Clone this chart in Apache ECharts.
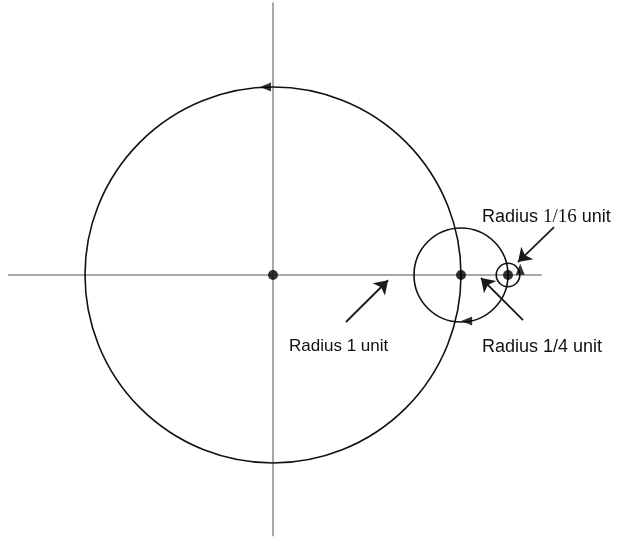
<!DOCTYPE html>
<html>
<head>
<meta charset="utf-8">
<script src="https://cdn.jsdelivr.net/npm/echarts@6/dist/echarts.min.js"></script>
<style>html,body{margin:0;padding:0;background:#fff}#c{width:637px;height:540px}</style>
</head>
<body>
<div id="c"></div>
<script>
// circles: [centerX, centerY, radius] in units
const circles = [[0, 0, 1], [1, 0, 0.25], [1.25, 0, 0.0625]];
// centre dots
const dots = [[0, 0], [1, 0], [1.25, 0]];
// reference axes (end points)
const hAxisLine = [[-1.41, 0], [1.43, 0]];
const vAxisLine = [[0, 1.45], [0, -1.39]];
// direction arrowheads on circles: [x, y, rotation deg]
const dirArrows = [[-0.04, 1.0, 90], [1.03, -0.245, 90], [1.315, 0.03, 0]];
// label pointer arrows: [from, to]
const pointers = [
  [[0.388, -0.25], [0.612, -0.028]],
  [[1.33, -0.24], [1.106, -0.016]],
  [[1.495, 0.255], [1.303, 0.069]]
];
const S = 188;
const chart = echarts.init(document.getElementById('c'));
chart.setOption({
  animation: false,
  backgroundColor: '#fff',
  grid: {left: 273 - 1.4 * S, top: 275 - 1.4 * S, width: 3.3 * S, height: 2.8 * S, show: false},
  xAxis: {type: 'value', min: -1.4, max: 1.9, show: false},
  yAxis: {type: 'value', min: -1.4, max: 1.4, show: false},
  series: [
    {type: 'line', data: hAxisLine, clip: false, symbol: 'none', lineStyle: {color: '#a8a8a8', width: 2}, z: 1},
    {type: 'line', data: vAxisLine, clip: false, symbol: 'none', lineStyle: {color: '#a8a8a8', width: 2}, z: 1},
    {
      type: 'custom', clip: false, z: 2,
      data: circles,
      renderItem: function (params, api) {
        const c = api.coord([api.value(0), api.value(1)]);
        const r = api.size([api.value(2), 0])[0];
        return {type: 'circle', shape: {cx: c[0], cy: c[1], r: r},
          style: {fill: 'none', stroke: '#111', lineWidth: 1.6}};
      }
    },
    {type: 'scatter', data: dots, symbol: 'circle', symbolSize: 10, itemStyle: {color: '#000'}, z: 5},
    {
      type: 'scatter', z: 6,
      data: dirArrows.map(d => ({value: [d[0], d[1]], symbolRotate: d[2]})),
      symbol: 'triangle', symbolSize: [9, 11], itemStyle: {color: '#000'}
    },
    {
      type: 'lines', coordinateSystem: 'cartesian2d', z: 6,
      data: pointers.map(p => ({coords: p})),
      symbol: ['none', 'arrow'], symbolSize: 13,
      lineStyle: {color: '#1a1a1a', width: 1.8, opacity: 1}
    }
  ],
  graphic: [
    {type: 'text', left: 289, top: 338, style: {text: 'Radius 1 unit', fontFamily: 'Liberation Sans, Arial', fontSize: 17, fill: '#111'}},
    {type: 'text', left: 482, top: 338, style: {text: 'Radius 1/4 unit', fontFamily: 'Liberation Sans, Arial', fontSize: 18, fill: '#111'}},
    {type: 'text', left: 482, top: 208, style: {
      text: '{a|Radius }{b|1/16}{a| unit}',
      rich: {
        a: {fontFamily: 'Liberation Sans, Arial', fontSize: 18, fill: '#111'},
        b: {fontFamily: 'Liberation Serif, Times New Roman', fontSize: 19, fill: '#111'}
      }
    }}
  ]
});
</script>
</body>
</html>
